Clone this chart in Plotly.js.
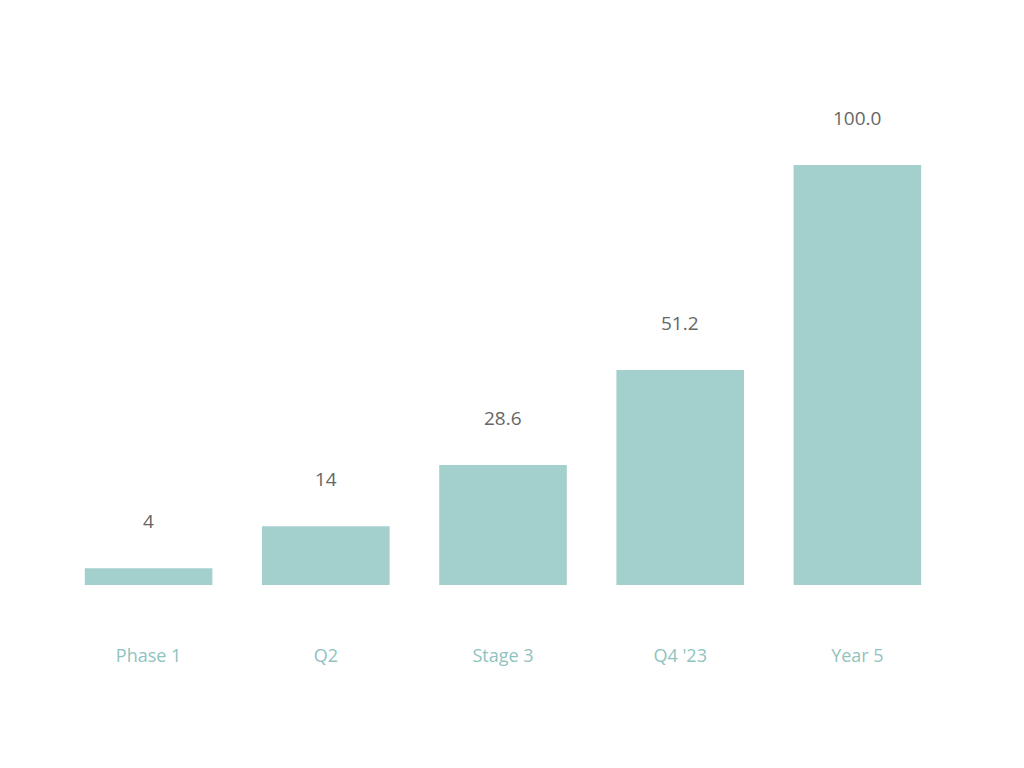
<!DOCTYPE html>
<html>
<head>
<meta charset="utf-8">
<script src="https://cdn.plot.ly/plotly-3.0.1.min.js"></script>
<style>html,body{margin:0;padding:0;background:#fff;}#chart{width:1024px;height:768px;}</style>
</head>
<body>
<div id="chart"></div>
<script>
const categories = ["Phase 1", "Q2", "Stage 3", "Q4 '23", "Year 5"];
const values = [4, 14, 28.6, 51.2, 100];
const valueLabels = ["4", "14", "28.6", "51.2", "100.0"];

const barColor = "#a3cfcd";

const trace = {
  type: "bar",
  x: categories,
  y: values,
  marker: { color: barColor },
  hoverinfo: "none"
};

const annotations = categories.map((c, i) => ({
  x: c, y: values[i], xref: "x", yref: "y",
  text: valueLabels[i], showarrow: false,
  yshift: 47,
  font: { family: "Open Sans, sans-serif", size: 19, color: "#666666" }
}));

const layout = {
  width: 1024, height: 768,
  margin: { l: 60, r: 78, t: 60, b: 183 },
  paper_bgcolor: "#ffffff", plot_bgcolor: "#ffffff",
  bargap: 0.28,
  showlegend: false,
  xaxis: {
    showline: false, showgrid: false, zeroline: false,
    ticks: "", ticklabelstandoff: 58,
    tickfont: { family: "Open Sans, sans-serif", size: 18, color: "#8fc3bf" }
  },
  yaxis: {
    range: [0, 125], showgrid: false, zeroline: false, showline: false,
    showticklabels: false, ticks: ""
  },
  annotations: annotations
};

Plotly.newPlot("chart", [trace], layout, { staticPlot: true, displayModeBar: false });
</script>
</body>
</html>
